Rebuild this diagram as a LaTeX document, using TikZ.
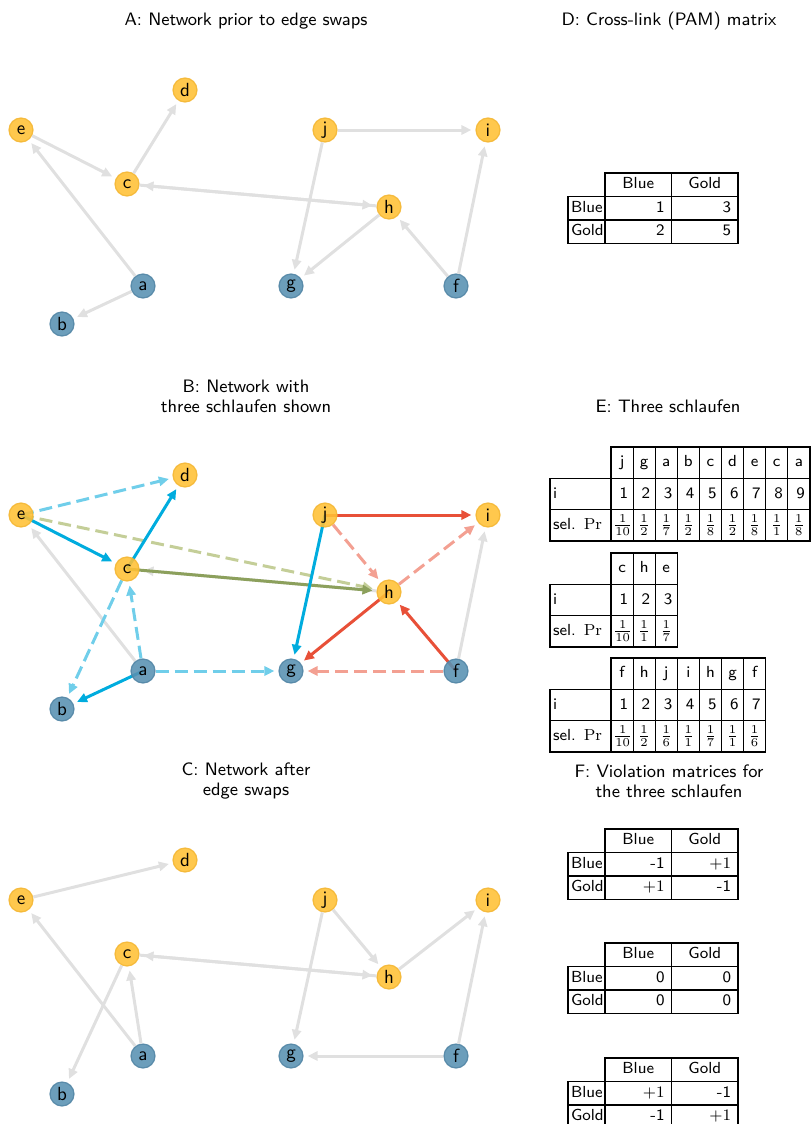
\documentclass[tikz,border=0pt]{standalone}
\usetikzlibrary{arrows.meta,matrix,backgrounds}
\renewcommand{\familydefault}{\sfdefault}

\definecolor{gold}{RGB}{255,192,52}
\definecolor{goldline}{RGB}{244,182,50}
\definecolor{steel}{RGB}{88,145,178}
\definecolor{steelline}{RGB}{80,132,164}
\definecolor{edgegrey}{RGB}{224,224,224}
\definecolor{swapblue}{RGB}{0,172,222}
\definecolor{swapbluelt}{RGB}{112,206,234}
\definecolor{swapred}{RGB}{232,80,56}
\definecolor{swapredlt}{RGB}{243,160,146}
\definecolor{swapolive}{RGB}{140,160,92}
\definecolor{swapolivelt}{RGB}{196,206,152}

\newcommand{\cellfont}{\fontsize{8}{10}\selectfont}
\newcommand{\prfont}{\fontsize{8}{9}\selectfont}

\tikzset{
  paneltitle/.style={align=center, font=\fontsize{9}{10}\selectfont},
  goldnode/.style={circle, fill=gold, draw=goldline, line width=0.6pt,
    fill opacity=0.88, draw opacity=0.88, text opacity=1,
    minimum size=12pt, inner sep=0pt, font=\fontsize{9.5}{10}\selectfont},
  bluenode/.style={goldnode, fill=steel, draw=steelline},
  arrowed/.style={-{Triangle[length=5pt,width=4.6pt]}, shorten >=2pt},
  greyedge/.style={arrowed, color=edgegrey, line width=1.5pt},
  bluelink/.style={arrowed, color=swapblue, line width=1.5pt},
  redlink/.style={arrowed, color=swapred, line width=1.5pt},
  olivelink/.style={arrowed, color=swapolive, line width=1.5pt},
  swapdash/.style={arrowed, line width=1.5pt, dash pattern=on 6.5pt off 3pt},
  blueswap/.style={swapdash, color=swapbluelt},
  redswap/.style={swapdash, color=swapredlt},
  oliveswap/.style={swapdash, color=swapolivelt},
  pam/.style={matrix of nodes, anchor=north west, inner sep=0pt,
    column sep=-0.6pt, row sep=-0.6pt,
    nodes={draw=black, line width=0.6pt, font=\cellfont, minimum height=11.75pt,
      text height=5.6pt, text depth=1.5pt, inner xsep=3.5pt,
      text width=26.25pt, align=right},
    column 1/.style={nodes={inner xsep=1.5pt, text width=15.5pt, align=left}},
    row 1/.style={nodes={align=center}}},
  sch/.style={matrix of nodes, anchor=north west, inner sep=0pt,
    column sep=-0.6pt, row sep=-0.6pt,
    nodes={draw=black, line width=0.6pt, font=\cellfont, minimum height=15.65pt,
      text height=5.6pt, text depth=1.5pt, inner xsep=2.5pt,
      text width=6.05pt, align=right},
    column 1/.style={nodes={inner xsep=1.5pt, text width=27.5pt, align=left}},
    row 1/.style={nodes={align=center}},
    row 3/.style={nodes={font=\prfont, text height=, text depth=, inner ysep=0pt,
      inner xsep=1pt, text width=9.05pt, align=center}},
    row 3 column 1/.style={nodes={font=\cellfont, inner xsep=1.5pt,
      text height=5.6pt, text depth=1.5pt, text width=27.5pt, align=left}}},
}

\begin{document}
\begin{tikzpicture}[x=0.5pt, y=-0.5pt]
\useasboundingbox (0,0) rectangle (811,1124);

% panel titles
\node [paneltitle] (titleA) at (246,21)  {A: Network prior to edge swaps};
\node [paneltitle] (titleB) at (246,396) {B: Network with\\three schlaufen shown};
\node [paneltitle] (titleC) at (246,781) {C: Network after\\edge swaps};
\node [paneltitle] (titleD) at (669,21)  {D: Cross-link (PAM) matrix};
\node [paneltitle] (titleE) at (668,406) {E: Three schlaufen};
\node [paneltitle] (titleF) at (669,781) {F: Violation matrices for\\the three schlaufen};

% same ten nodes in each network panel
\foreach \p/\dy in {A/0,B/385,C/770} {
  \node [goldnode] (\p-d) at (185,90+\dy)  {d};
  \node [goldnode] (\p-e) at (21,130+\dy)  {e};
  \node [goldnode] (\p-c) at (127,184+\dy) {c};
  \node [goldnode] (\p-j) at (325,130+\dy) {j};
  \node [goldnode] (\p-i) at (488,130+\dy) {i};
  \node [goldnode] (\p-h) at (389,207+\dy) {h};
  \node [bluenode] (\p-a) at (143,286+\dy) {a};
  \node [bluenode] (\p-g) at (291,286+\dy) {g};
  \node [bluenode] (\p-f) at (456,286+\dy) {f};
  \node [bluenode] (\p-b) at (62,324+\dy)  {b};
}

% A: before swaps
\path [greyedge] (A-e) edge (A-c) (A-c) edge (A-d) (A-a) edge (A-e) (A-a) edge (A-b)
  (A-c) edge (A-h) (A-h) edge (A-c) (A-j) edge (A-g) (A-h) edge (A-g)
  (A-j) edge (A-i) (A-f) edge (A-h) (A-f) edge (A-i);

% B: the three schlaufen (under the nodes)
\begin{pgfonlayer}{background}
\path [greyedge] (B-a) edge (B-e) (B-h) edge (B-c) (B-f) edge (B-i);
\path [blueswap] (B-e.center) edge (B-d) (B-c) edge (B-b) (B-a) edge (B-c) (B-a) edge (B-g);
\path [oliveswap] (B-e.center) edge (B-h);
\path [redswap] (B-j) edge (B-h) (B-h) edge (B-i) (B-f) edge (B-g);
\path [olivelink] (B-c.center) edge (B-h);
\path [redlink] (B-j.center) edge (B-i) (B-h.center) edge (B-g) (B-f.center) edge (B-h);
\path [bluelink] (B-e.center) edge (B-c) (B-c.center) edge (B-d)
  (B-a.center) edge (B-b) (B-j.center) edge (B-g);
\end{pgfonlayer}

% C: after swaps
\path [greyedge] (C-e) edge (C-d) (C-a) edge (C-e) (C-a) edge (C-c) (C-c) edge (C-b)
  (C-c) edge (C-h) (C-h) edge (C-c) (C-j) edge (C-g) (C-j) edge (C-h)
  (C-h) edge (C-i) (C-f) edge (C-i) (C-f) edge (C-g);

% D: PAM matrix
\matrix [pam] (pam) at (567,172) {
       & Blue & Gold \\
  Blue & 1    & 3    \\
  Gold & 2    & 5    \\
};

% E: schlaufen tables
\matrix [sch] (schA) at (549,446) {
  & j & g & a & b & c & d & e & c & a \\
  i & 1 & 2 & 3 & 4 & 5 & 6 & 7 & 8 & 9 \\
  sel. $\Pr$ & $\frac{1}{10}$ & $\frac{1}{2}$ & $\frac{1}{7}$ & $\frac{1}{2}$ & $\frac{1}{8}$
    & $\frac{1}{2}$ & $\frac{1}{8}$ & $\frac{1}{1}$ & $\frac{1}{8}$ \\
};
\matrix [sch] (schB) at (549,552) {
  & c & h & e \\
  i & 1 & 2 & 3 \\
  sel. $\Pr$ & $\frac{1}{10}$ & $\frac{1}{1}$ & $\frac{1}{7}$ \\
};
\matrix [sch] (schC) at (549,657) {
  & f & h & j & i & h & g & f \\
  i & 1 & 2 & 3 & 4 & 5 & 6 & 7 \\
  sel. $\Pr$ & $\frac{1}{10}$ & $\frac{1}{2}$ & $\frac{1}{6}$ & $\frac{1}{1}$ & $\frac{1}{7}$
    & $\frac{1}{1}$ & $\frac{1}{6}$ \\
};

% F: violation matrices
\matrix [pam] (violA) at (567,828) {
       & Blue  & Gold  \\
  Blue & -1    & $+1$  \\
  Gold & $+1$  & -1    \\
};
\matrix [pam] (violB) at (567,942) {
       & Blue & Gold \\
  Blue & 0    & 0    \\
  Gold & 0    & 0    \\
};
\matrix [pam] (violC) at (567,1057) {
       & Blue  & Gold  \\
  Blue & $+1$  & -1    \\
  Gold & -1    & $+1$  \\
};

\end{tikzpicture}
\end{document}
